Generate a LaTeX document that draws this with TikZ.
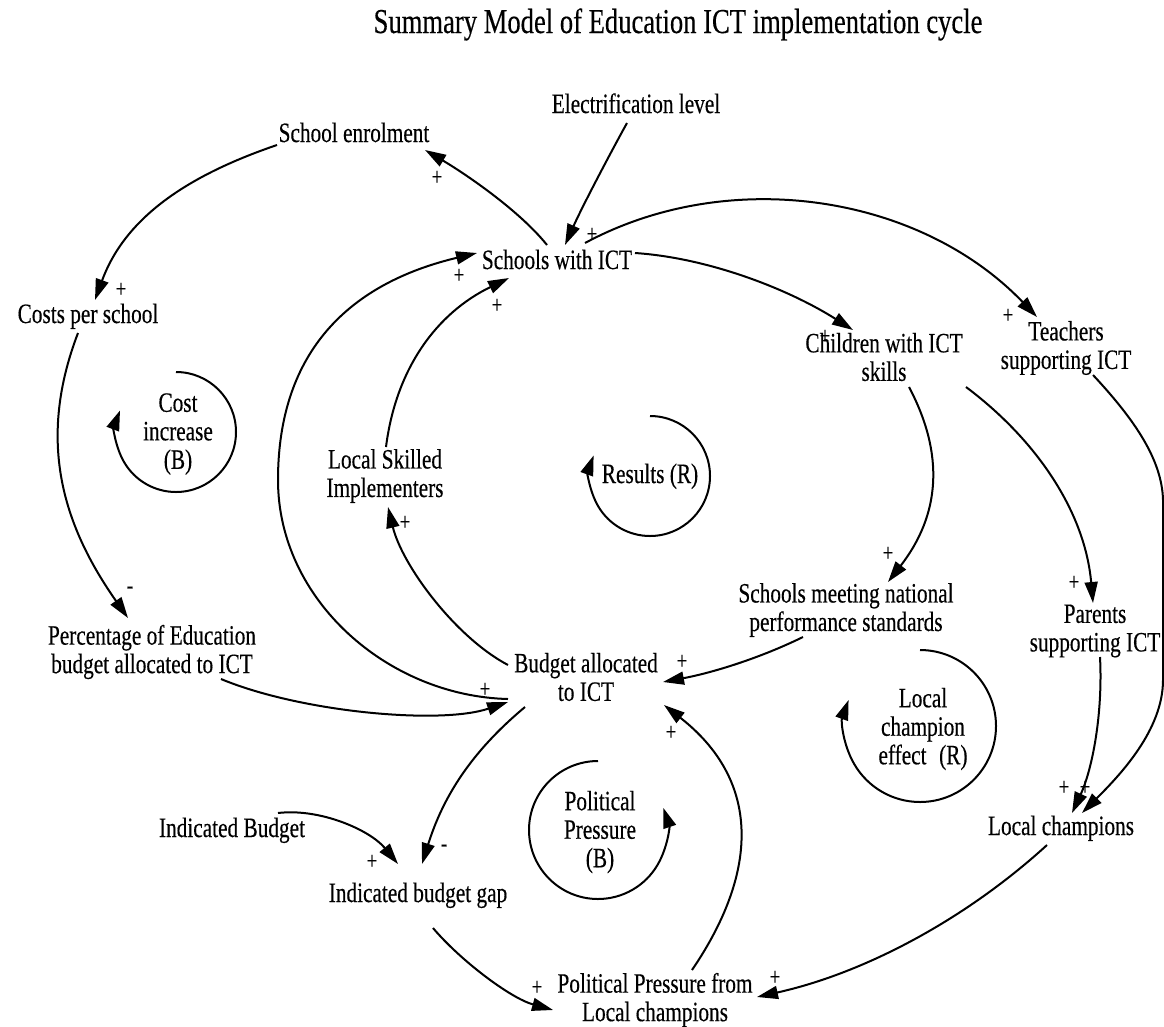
\documentclass[tikz,border=0pt]{standalone}
\usepackage{fontspec}
\setmainfont{Liberation Serif}[FakeStretch=0.76,FakeBold=0.35]
\usetikzlibrary{arrows.meta,calc}

\begin{document}
\begin{tikzpicture}[x=1pt,y=-1pt,
  every node/.style={inner sep=0pt, align=center},
  var/.style={font=\fontsize{28}{28.5}\selectfont},
  heading/.style={font=\fontsize{35}{38}\selectfont},
  sign/.style={font=\fontsize{25}{25}\selectfont},
  link/.style={line width=2pt, -{Triangle[length=21pt,width=13pt]}},
  loopcirc/.style={line width=2pt, -{Triangle[length=20pt,width=13pt]}},
]
\useasboundingbox (0,0) rectangle (1164,1026);
\clip (0,0) rectangle (1164,1026);

% ---------- title ----------
\node[heading, anchor=base] (title) at (678,33) {Summary Model of Education ICT implementation cycle};

% ---------- variables ----------
\node[var, anchor=base] (elec)  at (636,113) {Electrification level};
\node[var, anchor=base] (enrol) at (354,142) {School enrolment};
\node[var, anchor=base] (sch)   at (557,269) {Schools with ICT};
\node[var, anchor=base] (costs) at (88,323)  {Costs per school};
\node[var] (child)   at (884,357)  {Children with ICT\\skills};
\node[var] (teach)   at (1066,348) {Teachers\\supporting ICT};
\node[var] (lsi)     at (385,476)  {Local Skilled\\Implementers};
\node[var] (meet)    at (846,610)  {Schools meeting national\\performance standards};
\node[var] (parents) at (1095,631) {Parents\\supporting ICT};
\node[var] (pct)     at (152,652)  {Percentage of Education\\budget allocated to ICT};
\node[var] (budget)  at (586,677)  {Budget allocated\\to ICT};
\node[var, anchor=base] (lc)  at (1061,835) {Local champions};
\node[var, anchor=base] (ib)  at (232,837)  {Indicated Budget};
\node[var, anchor=base] (ibg) at (418,902)  {Indicated budget gap};
\node[var] (ppl)     at (655,1000) {Political Pressure from\\Local champions};

% ---------- loop labels ----------
\node[var] (costinc) at (178,434) {Cost\\increase\\(B)};
\node[var, anchor=base] (results) at (650,483) {Results (R)};
\node[var] (pp)  at (600,832) {Political\\Pressure\\(B)};
\node[var] (lce) at (923,729) {Local\\champion\\effect\hspace{0.45em}(R)};

% ---------- causal links ----------
\draw[link] ($(sch.base)+(-10,-24)$) .. controls (519,210) and (464,173) .. ($(enrol.base)+(71,8)$);
\draw[link] ($(elec.base)+(-9,10)$) .. controls (612,150) and (583,205) .. ($(sch.base)+(8,-24)$);
\draw[link] ($(enrol.base)+(-77,3)$) .. controls (192,174) and (126,215) .. ($(costs.base)+(7,-23)$);
\draw[link] ($(costs.base)+(-10,10)$) .. controls (37,440) and (62,524) .. ($(pct)+(-24,-34)$);
\draw[link] ($(sch.base)+(78,-16)$) .. controls (710,258) and (790,290) .. ($(child)+(-31,-27)$);
\draw[link] ($(sch.base)+(28,-26)$) .. controls (730,165) and (920,195) .. ($(teach)+(-29,-31)$);
\draw[link] ($(teach)+(27,27)$) .. controls (1135,420) and (1162,460) .. (1163,500)
            -- (1163,680) .. controls (1163,730) and (1120,775) .. ($(lc.base)+(21,-22)$);
\draw[link] ($(child)+(25,30)$) .. controls (945,455) and (940,515) .. ($(meet)+(42,-28)$);
\draw[link] ($(child)+(82,30)$) .. controls (1038,441) and (1085,513) .. ($(parents)+(-2,-28)$);
\draw[link] ($(parents)+(5,26)$) .. controls (1103,715) and (1092,770) .. ($(lc.base)+(11,-22)$);
\draw[link] ($(lc.base)+(-14,10)$) .. controls (966,919) and (865,973) .. ($(ppl)+(102,-3)$);
\draw[link] ($(meet)+(-43,27)$) .. controls (758,659) and (711,673) .. ($(budget)+(77,5)$);
\draw[link] ($(ppl)+(37,-30)$) .. controls (760,870) and (760,780) .. ($(budget)+(78,28)$);
\draw[link] ($(budget)+(-61,30)$) .. controls (471,752) and (443,797) .. ($(ibg.base)+(4,-38)$);
\draw[link] ($(ib.base)+(46,-24)$) .. controls (320,808) and (370,830) .. ($(ibg.base)+(-20,-38)$);
\draw[link] ($(ibg.base)+(15,26)$) .. controls (460,960) and (510,998) .. ($(ppl)+(-102,10)$);
\draw[link] ($(pct)+(69,27)$) .. controls (300,712) and (440,725) .. ($(budget)+(-78,25)$);
\draw[link] ($(budget)+(-78,22)$) .. controls (388,696) and (278,600) .. (278,480)
            .. controls (278,350) and (351,283) .. ($(sch.base)+(-80,-16)$);
\draw[link] ($(budget)+(-78,-12)$) .. controls (455,637) and (402,565) .. ($(lsi)+(3,31)$);
\draw[link] ($(lsi)+(1,-29)$) .. controls (396,368) and (437,313) .. ($(sch.base)+(-48,9)$);

% ---------- loop markers ----------
\draw[loopcirc] ($(costinc)+(-2,-62)$) arc[start angle=270, end angle=561, radius=60];
\draw[loopcirc] ($(results.base)+(0,-67)$) arc[start angle=270, end angle=560, radius=60];
\draw[loopcirc] ($(pp)+(-2,-71)$) arc[start angle=270, end angle=-18.6, radius=69];
\draw[loopcirc] ($(lce)+(-3,-79)$) arc[start angle=270, end angle=560, radius=76];

% ---------- polarities ----------
\node[sign] (s1)  at (437,178)  {+};
\node[sign] (s2)  at (121,290)  {+};
\node[sign] (s3)  at (592,235)  {+};
\node[sign] (s4)  at (459,276)  {+};
\node[sign] (s5)  at (497,306)  {+};
\node[sign] (s6)  at (825,337)  {+};
\node[sign] (s7)  at (1008,316) {+};
\node[sign] (s8)  at (405,523)  {+};
\node[sign] (s9)  at (130,590)  {-};
\node[sign] (s10) at (485,690)  {+};
\node[sign] (s11) at (682,662)  {+};
\node[sign] (s12) at (671,733)  {+};
\node[sign] (s13) at (888,554)  {+};
\node[sign] (s14) at (1074,583) {+};
\node[sign] (s15) at (1064,788) {+};
\node[sign] (s16) at (1085,788) {+};
\node[sign] (s17) at (372,862)  {+};
\node[sign] (s18) at (444,848)  {-};
\node[sign] (s19) at (537,988)  {+};
\node[sign] (s20) at (775,978)  {+};
\end{tikzpicture}
\end{document}
